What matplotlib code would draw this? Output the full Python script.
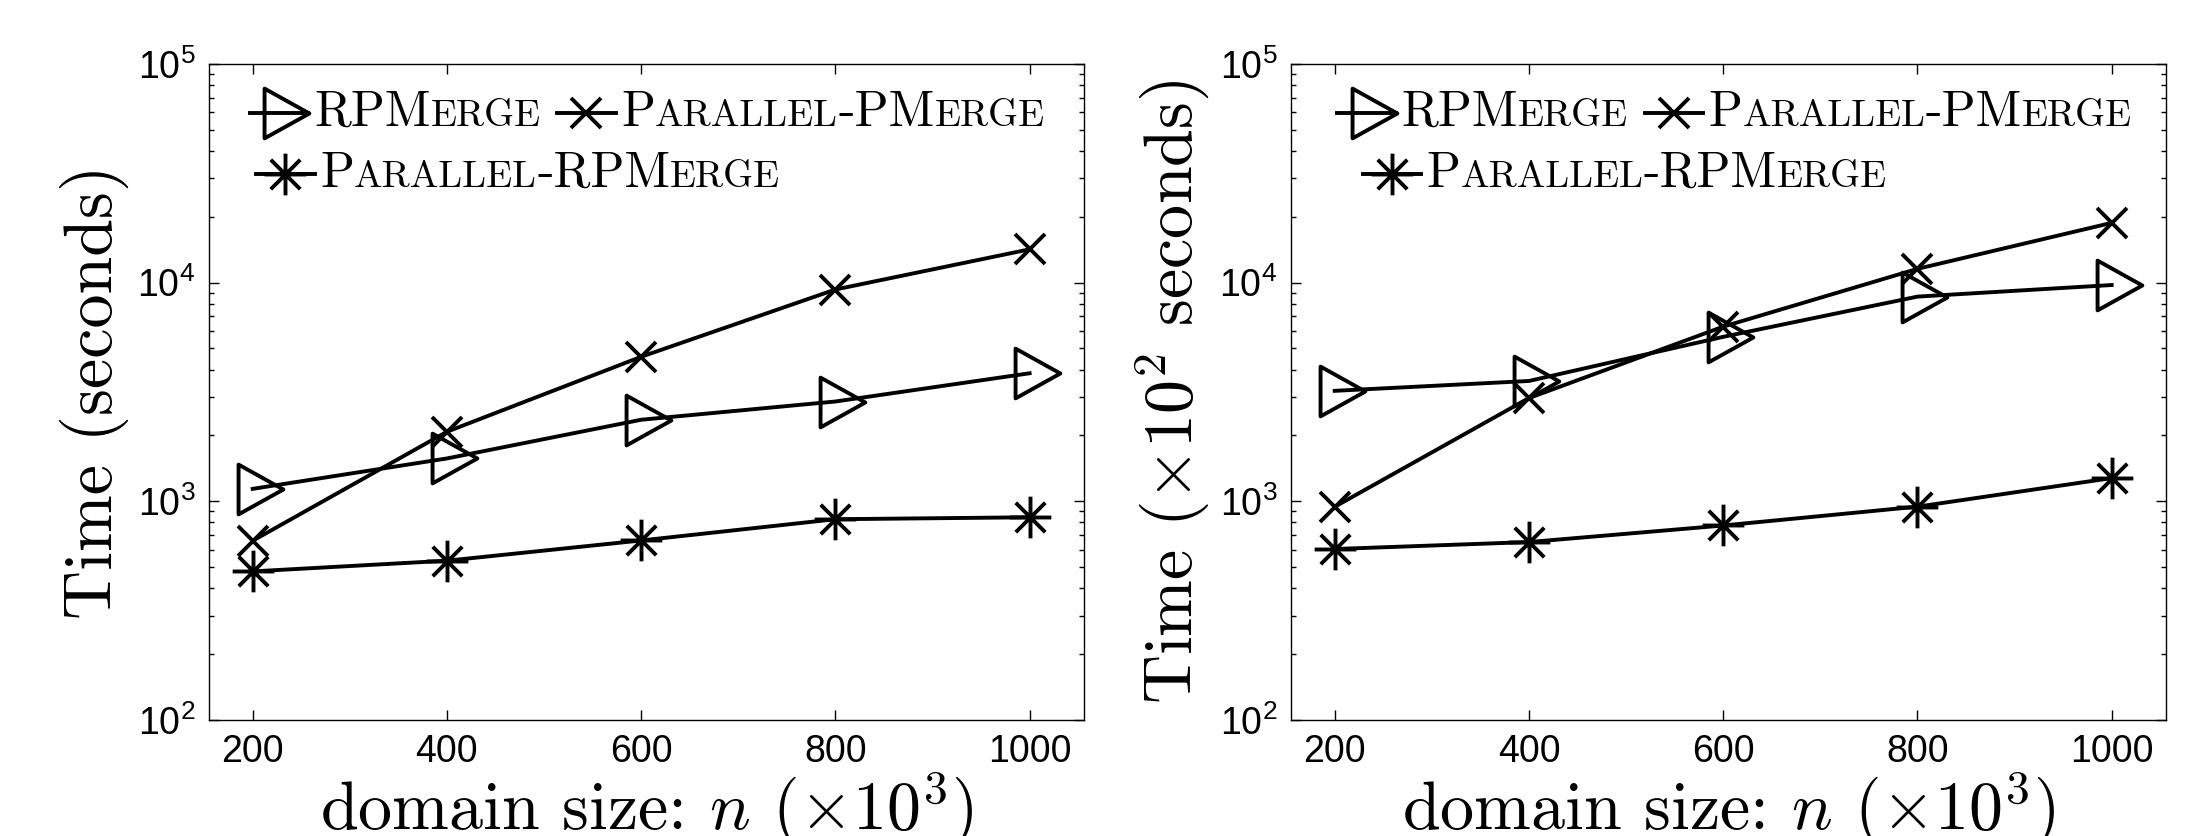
import numpy as np
import matplotlib
matplotlib.use('Agg')
import matplotlib.pyplot as plt
from matplotlib.path import Path
from matplotlib.lines import Line2D
from matplotlib.offsetbox import DrawingArea, TextArea, HPacker, AnnotationBbox
from matplotlib.ticker import LogLocator, NullFormatter

plt.rcParams['font.family'] = ['Liberation Sans', 'DejaVu Sans']
plt.rcParams['mathtext.fontset'] = 'cm'

#Domain sizes (x10^3)
n = [200, 400, 600, 800, 1000]

#Left panel: time in seconds
rpmerge_l = [1140, 1570, 2360, 2860, 3850]
ppmerge_l = [660, 2080, 4580, 9300, 14200]
prpmerge_l = [478, 535, 662, 828, 845]

#Right panel: time in x10^2 seconds
rpmerge_r = [3200, 3550, 5650, 8630, 9750]
ppmerge_r = [944, 2965, 6290, 11560, 18760]
prpmerge_r = [605, 651, 775, 945, 1277]

ylabels = ['Time (seconds)', r'Time ($\times 10^2$ seconds)']
xlabel = r'domain size: $n$ ($\times 10^3$)'

#Legend labels as (text, small caps?) pieces
lab_rp = [('RPM', 0), ('ERGE', 1)]
lab_pp = [('P', 0), ('ARALLEL', 1), ('-PM', 0), ('ERGE', 1)]
lab_prp = [('P', 0), ('ARALLEL', 1), ('-RPM', 0), ('ERGE', 1)]

#MATLAB-like markers
tri = Path([(-0.25, 0.4167), (0.5, 0.0), (-0.25, -0.4167), (-0.25, 0.4167)],
           [Path.MOVETO, Path.LINETO, Path.LINETO, Path.CLOSEPOLY])
d = 0.3536
star = Path([(0, -0.5), (0, 0.5), (-0.5, 0), (0.5, 0), (-d, -d), (d, d), (-d, d), (d, -d)],
            [Path.MOVETO, Path.LINETO] * 4)

lw = 2.8
styles = {
    'rp': dict(marker=tri, ms=43, mfc='none', mec='k', mew=lw),
    'pp': dict(marker='x', ms=22, mec='k', mew=lw),
    'prp': dict(marker=star, ms=30, mec='k', mew=lw),
}


def handle(style):
    da = DrawingArea(42, 30, 0, 0)
    da.add_artist(Line2D([0, 42], [15, 15], color='k', lw=lw))
    da.add_artist(Line2D([21], [15], color='k', ls='none', **styles[style]))
    return da


def label(pieces):
    kids = [TextArea(s, textprops=dict(family='cmr10', size=27.5 if sc else 36))
            for s, sc in pieces]
    return HPacker(children=kids, align='baseline', pad=0, sep=0)


def legend_row(ax, entries, x, y):
    kids = []
    for st, pieces in entries:
        kids.append(HPacker(children=[handle(st), label(pieces)], align='center', pad=0, sep=4))
    box = HPacker(children=kids, align='center', pad=0, sep=12)
    ab = AnnotationBbox(box, (x, y), xycoords='axes fraction', box_alignment=(0, 0.5),
                        frameon=False, pad=0)
    ax.add_artist(ab)


fig = plt.figure(figsize=(21.93, 8.36), dpi=100)
axl = fig.add_axes([0.0953, 0.1388, 0.399, 0.7847])
axr = fig.add_axes([0.5887, 0.1388, 0.399, 0.7847])

panels = [(axl, rpmerge_l, ppmerge_l, prpmerge_l, 0.047, 0.054),
          (axr, rpmerge_r, ppmerge_r, prpmerge_r, 0.053, 0.082)]

for k, (ax, rp, pp, prp, x1, x2) in enumerate(panels):
    ax.plot(n, rp, color='k', lw=lw, **styles['rp'])
    ax.plot(n, pp, color='k', lw=lw, **styles['pp'])
    ax.plot(n, prp, color='k', lw=lw, **styles['prp'])
    ax.set_yscale('log')
    ax.set_ylim(100, 1e5)
    ax.set_xlim(155, 1056)
    ax.set_xticks(n)
    ax.yaxis.set_major_locator(LogLocator(base=10, numticks=10))
    ax.yaxis.set_minor_locator(LogLocator(base=10, subs=np.arange(2, 10), numticks=10))
    ax.yaxis.set_minor_formatter(NullFormatter())
    ax.tick_params(which='both', direction='in', top=True, right=True, labelsize=27, pad=10)
    ax.tick_params(which='major', length=7, width=1)
    ax.tick_params(which='minor', length=3.5, width=1)
    ax.minorticks_on()
    ax.xaxis.set_minor_locator(plt.NullLocator())
    for sp in ax.spines.values():
        sp.set_linewidth(1.0)
    ax.set_xlabel(xlabel, family='cmr10', fontsize=49, labelpad=0)
    ax.set_ylabel(ylabels[k], family='cmr10', fontsize=49, labelpad=6)

    legend_row(ax, [('rp', lab_rp), ('pp', lab_pp)], x1, 0.925)
    legend_row(ax, [('prp', lab_prp)], x2, 0.832)

fig.savefig('out.png', dpi=100)
